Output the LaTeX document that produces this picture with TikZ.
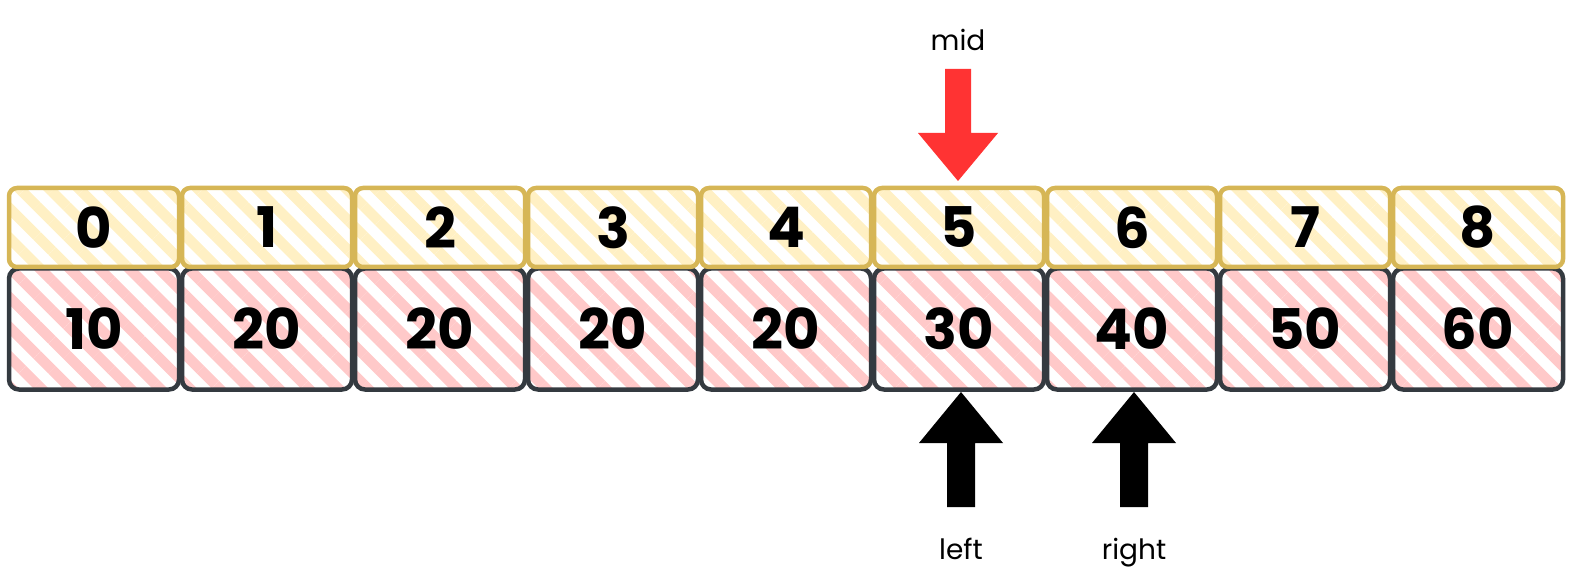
\documentclass[tikz,border=0pt]{standalone}
\usepackage{fontspec}
\setmainfont{Poppins}
\usetikzlibrary{patterns.meta,calc}
\definecolor{ystroke}{HTML}{D6B656}
\definecolor{yfill}{HTML}{FFF0C4}
\definecolor{dstroke}{HTML}{343A40}
\definecolor{pfill}{HTML}{FFC9C9}
\definecolor{arrred}{HTML}{FF3333}
\tikzset{
  idxbox/.style={draw=ystroke, line width=4.5pt, rounded corners=8pt,
    minimum width=170pt, minimum height=79pt, inner sep=0pt,
    pattern={Lines[angle=-45, distance=21pt, line width=10.5pt]}, pattern color=yfill,
    font=\fontsize{56}{60}\selectfont\bfseries, text=black},
  valbox/.style={draw=dstroke, line width=4.5pt, rounded corners=10pt,
    minimum width=170pt, minimum height=121pt, inner sep=0pt,
    pattern={Lines[angle=-45, distance=21pt, line width=10.5pt]}, pattern color=pfill,
    font=\fontsize{56}{60}\selectfont\bfseries, text=black},
  lbl/.style={font=\fontsize{28}{30}\selectfont, text=black, inner sep=0pt, anchor=base},
}
\begin{document}
\begin{tikzpicture}[x=1pt,y=-1pt]
\useasboundingbox (0,0) rectangle (1590,585);
\foreach \i/\v in {0/10,1/20,2/20,3/20,4/20,5/30,6/40,7/50,8/60}{
  \node[valbox] (v\i) at ({94+173*\i},329) {\v};
  \node[idxbox] (i\i) at ({94+173*\i},227.5) {\i};
}
% labels
\node[lbl] (mid) at (958,51) {mid};
\node[lbl] (left) at (961,559) {left};
\node[lbl] (right) at (1134,559) {right};
% block arrows
\coordinate (mt) at (958,69);
\coordinate (mtip) at (958,181);
\fill[arrred] ($(mt)+(-13,0)$) -- ($(mt)+(13,0)$) -- ($(mtip)+(13,-48)$) -- ($(mtip)+(40,-48)$)
  -- (mtip) -- ($(mtip)+(-40,-48)$) -- ($(mtip)+(-13,-48)$) -- cycle;
\foreach \n/\x in {l/961,r/1134}{
  \coordinate (\n b) at (\x,507);
  \coordinate (\n tip) at (\x,392);
  \fill[black] ($(\n b)+(-14,0)$) -- ($(\n b)+(14,0)$) -- ($(\n tip)+(14,51)$) -- ($(\n tip)+(42,51)$)
    -- (\n tip) -- ($(\n tip)+(-42,51)$) -- ($(\n tip)+(-14,51)$) -- cycle;
}
\end{tikzpicture}
\end{document}
